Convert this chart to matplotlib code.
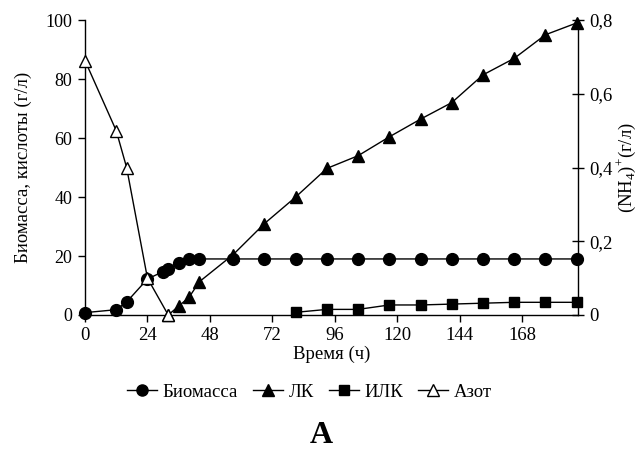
import matplotlib
matplotlib.use("Agg")
import matplotlib.pyplot as plt
from matplotlib.ticker import FuncFormatter
from matplotlib.lines import Line2D

plt.rcParams['font.family'] = ['Liberation Serif', 'DejaVu Serif']
plt.rcParams['mathtext.fontset'] = 'custom'
plt.rcParams['mathtext.rm'] = 'Liberation Serif'

# Time points (h) and measured concentrations
t_biomass = [0, 12, 16, 24, 30, 32, 36, 40, 44, 57, 69, 81, 93, 105, 117, 129, 141, 153, 165, 177, 189]
biomass = [0.8, 1.8, 4.4, 12.2, 14.7, 15.5, 17.5, 18.9, 19, 19, 19, 19, 19, 19, 19, 19, 19, 19, 19, 19, 19]

t_lk = [32, 36, 40, 44, 57, 69, 81, 93, 105, 117, 129, 141, 153, 165, 177, 189]
lk = [0, 3, 6, 11.3, 20.5, 31, 40, 49.7, 54, 60.4, 66.4, 72, 81.4, 87, 95, 99]

t_ilk = [81, 93, 105, 117, 129, 141, 153, 165, 177, 189]
ilk = [0.9, 1.9, 1.9, 3.4, 3.4, 3.7, 4.0, 4.3, 4.3, 4.3]

t_azot = [0, 12, 16, 24, 32]
azot = [0.69, 0.50, 0.40, 0.10, 0.0]

x_ticks = [0, 24, 48, 72, 96, 120, 144, 168]
left_ticks = [0, 20, 40, 60, 80, 100]
right_ticks = [0, 0.2, 0.4, 0.6, 0.8]

fig = plt.figure(figsize=(6.41, 4.55), dpi=100)
ax = fig.add_axes([0.1326, 0.3077, 0.769, 0.6483])
ax2 = ax.twinx()

line_kw = dict(color='black', lw=1.0, clip_on=False)
ax.plot(t_biomass, biomass, marker='o', ms=8.5, mfc='black', mec='black', **line_kw, zorder=3)
ax.plot(t_lk, lk, marker='^', ms=8.5, mfc='black', mec='black', **line_kw, zorder=3)
ax.plot(t_ilk, ilk, marker='s', ms=7.5, mfc='black', mec='black', **line_kw, zorder=3)
ax2.plot(t_azot, azot, marker='^', ms=8.5, mfc='white', mec='black', mew=1.0, **line_kw, zorder=4)

ax.set_xlim(0, 189.5)
ax.set_ylim(0, 100)
ax2.set_ylim(0, 0.8)
ax.set_xticks(x_ticks)
ax.set_yticks(left_ticks)
ax2.set_yticks(right_ticks)

def comma_fmt(v, pos):
    if abs(v) < 1e-9:
        return '0'
    return ('%.1f' % v).replace('.', ',')

ax2.yaxis.set_major_formatter(FuncFormatter(comma_fmt))

for a in (ax, ax2):
    a.spines['top'].set_visible(False)
    for s in a.spines.values():
        s.set_linewidth(1.0)
ax2.spines['left'].set_visible(False)
ax2.spines['bottom'].set_visible(False)
ax.spines['right'].set_visible(False)

fs = 13.5
ax.tick_params(axis='x', direction='out', length=5, width=1, labelsize=fs, pad=4)
ax.tick_params(axis='y', direction='out', length=5, width=1, labelsize=13, pad=4)
ax2.tick_params(axis='y', direction='inout', length=9, width=1, labelsize=fs, pad=4)

ax.set_xlabel('Время (ч)', fontsize=fs, labelpad=1)
ax.set_ylabel('Биомасса, кислоты (г/л)', fontsize=fs, labelpad=10)
ax2.set_ylabel(r'(NH$_4$)$^{+}$(г/л)', fontsize=fs, labelpad=1)

handles = [
    Line2D([], [], color='black', lw=1, marker='o', ms=8, mfc='black'),
    Line2D([], [], color='black', lw=1, marker='^', ms=8, mfc='black'),
    Line2D([], [], color='black', lw=1, marker='s', ms=7, mfc='black'),
    Line2D([], [], color='black', lw=1, marker='^', ms=8, mfc='white', mec='black'),
]
labels = ['Биомасса', 'ЛК', 'ИЛК', 'Азот']
fig.legend(handles, labels, loc='center', bbox_to_anchor=(0.483, 0.138), ncol=4,
           frameon=False, fontsize=fs, handlelength=1.6, handletextpad=0.3,
           columnspacing=0.8)

fig.text(0.502, 0.043, 'А', ha='center', va='center', fontsize=23, fontweight='bold')

fig.savefig('out.png', dpi=100)
